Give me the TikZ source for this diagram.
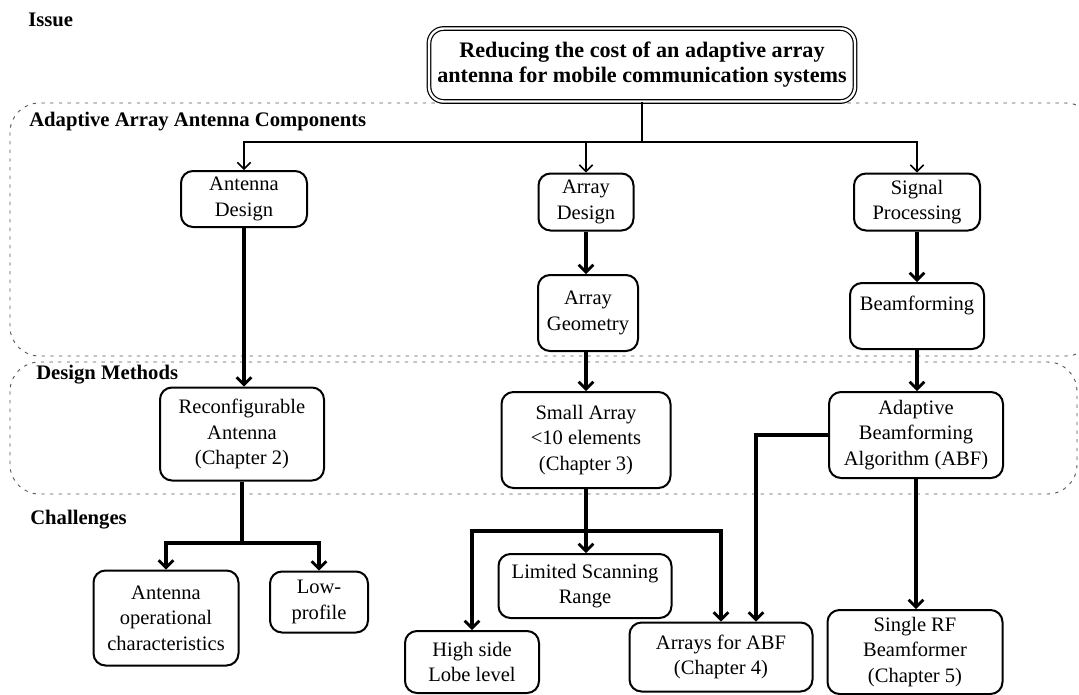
\documentclass[tikz,border=0pt]{standalone}
\usepackage{fontspec}
\setmainfont{Liberation Serif}
\usetikzlibrary{arrows.meta,calc}
\begin{document}
\begin{tikzpicture}[x=0.75pt,y=-0.75pt,
  box/.style={draw,line width=1.5pt,rounded corners=9pt,align=center,inner sep=1pt,
    font=\fontsize{15.4}{19.2}\selectfont},
  topbox/.style={draw,line width=0.9pt,double,double distance=1.8pt,rounded corners=11pt,align=center,
    inner sep=1pt,font=\fontsize{16.6}{18.8}\selectfont\bfseries},
  lbl/.style={anchor=west,inner sep=0pt,font=\fontsize{15.5}{18}\selectfont\bfseries},
  region/.style={draw=black!65,line width=0.7pt,dash pattern=on 2.5pt off 4pt,rounded corners=22pt},
  thinarr/.style={line width=1.1pt,-{Straight Barb[length=5pt,width=10pt,line width=1.1pt]}},
  thickarr/.style={line width=2.5pt,-{Straight Barb[length=5.5pt,width=11pt,line width=2pt]}},
  thickline/.style={line width=2.5pt}]
\useasboundingbox (0,0) rectangle (1079,694);
% dashed regions
\draw[region] (10,103) rectangle (1095,356);
\draw[region] (10,362) rectangle (1077,494);
% labels
\node[lbl] (lissue) at (28,20) {Issue};
\node[lbl] (lcomp) at (29,122) {Adaptive Array Antenna Components};
\node[lbl] (ldesign) at (36,375) {Design Methods};
\node[lbl] (lchal) at (30,520) {Challenges};
% top
\node[topbox,minimum width=319.5pt,minimum height=54.75pt] (top) at (642,65)
  {Reducing the cost of an adaptive array\\antenna for mobile communication systems};
% components
\node[box,minimum width=94.5pt,minimum height=42pt] (adesign) at (244,199) {Antenna\\Design};
\node[box,minimum width=71.25pt,minimum height=42.75pt] (arrdesign) at (586,202) {Array\\Design};
\node[box,minimum width=94.5pt,minimum height=42.75pt] (sigproc) at (917,202) {Signal\\Processing};
\node[box,minimum width=75pt,minimum height=57pt] (arrgeo) at (588,313) {Array\\Geometry};
\node[box,minimum width=100.5pt,minimum height=49.5pt] (beamf) at (917,316) {Beamforming\\\mbox{}};
% design methods
\node[box,minimum width=123pt,minimum height=69.75pt] (reconf) at (242,434) {Reconfigurable\\Antenna\\(Chapter 2)};
\node[box,minimum width=126.75pt,minimum height=72pt] (small) at (586,440) {Small Array\\<10 elements\\(Chapter 3)};
\node[box,minimum width=130.5pt,minimum height=64.5pt] (abf) at (916,435) {Adaptive\\Beamforming\\Algorithm (ABF)};
% challenges
\node[box,minimum width=108.75pt,minimum height=71.25pt] (antop) at (166,618) {Antenna\\operational\\characteristics};
\node[box,minimum width=73.5pt,minimum height=45.75pt] (lowp) at (319,602) {Low-\\profile};
\node[box,minimum width=100.5pt,minimum height=46.5pt] (highside) at (472,662) {High side\\Lobe level};
\node[box,minimum width=129.75pt,minimum height=48pt] (limited) at (585,586) {Limited Scanning\\Range};
\node[box,minimum width=137.25pt,minimum height=51.75pt] (arrabf) at (721,657) {Arrays for ABF\\(Chapter 4)};
\node[box,minimum width=131.25pt,minimum height=63pt] (singlerf) at (915,652) {Single RF\\Beamformer\\(Chapter 5)};
% connectors from top
\coordinate (hub) at (642,142);
\draw[line width=1.1pt] (top.south) -- (hub);
\draw[thinarr] (hub) -| (adesign.north);
\draw[thinarr] (hub) -| (arrdesign.north);
\draw[thinarr] (hub) -| (sigproc.north);
% vertical chains
\draw[thickarr] (adesign.south) -- (adesign.south |- reconf.north);
\draw[thickarr] (arrdesign.south) -- (arrdesign.south |- arrgeo.north);
\draw[thickarr] (arrgeo.south -| arrdesign.south) -- (arrdesign.south |- small.north);
\draw[thickarr] (sigproc.south) -- (sigproc.south |- beamf.north);
\draw[thickarr] (beamf.south) -- (beamf.south |- abf.north);
\draw[thickarr] (abf.south) -- (abf.south |- singlerf.north);
% reconfigurable split
\coordinate (rs) at (242,543);
\draw[thickline] (reconf.south) -- (rs);
\draw[thickarr] (rs) -| (antop.north);
\draw[thickarr] (rs) -| (lowp.north);
% small array split
\coordinate (ss) at (586,531);
\draw[thickline] (small.south) -- (ss);
\draw[thickarr] (ss) -| (highside.north);
\draw[thickarr] (ss) -- (ss |- limited.north);
\draw[thickarr] (ss) -| (arrabf.north);
% ABF to arrays for ABF
\draw[thickarr] (abf.west) -| ([xshift=26.25pt]arrabf.north);
\end{tikzpicture}
\end{document}
